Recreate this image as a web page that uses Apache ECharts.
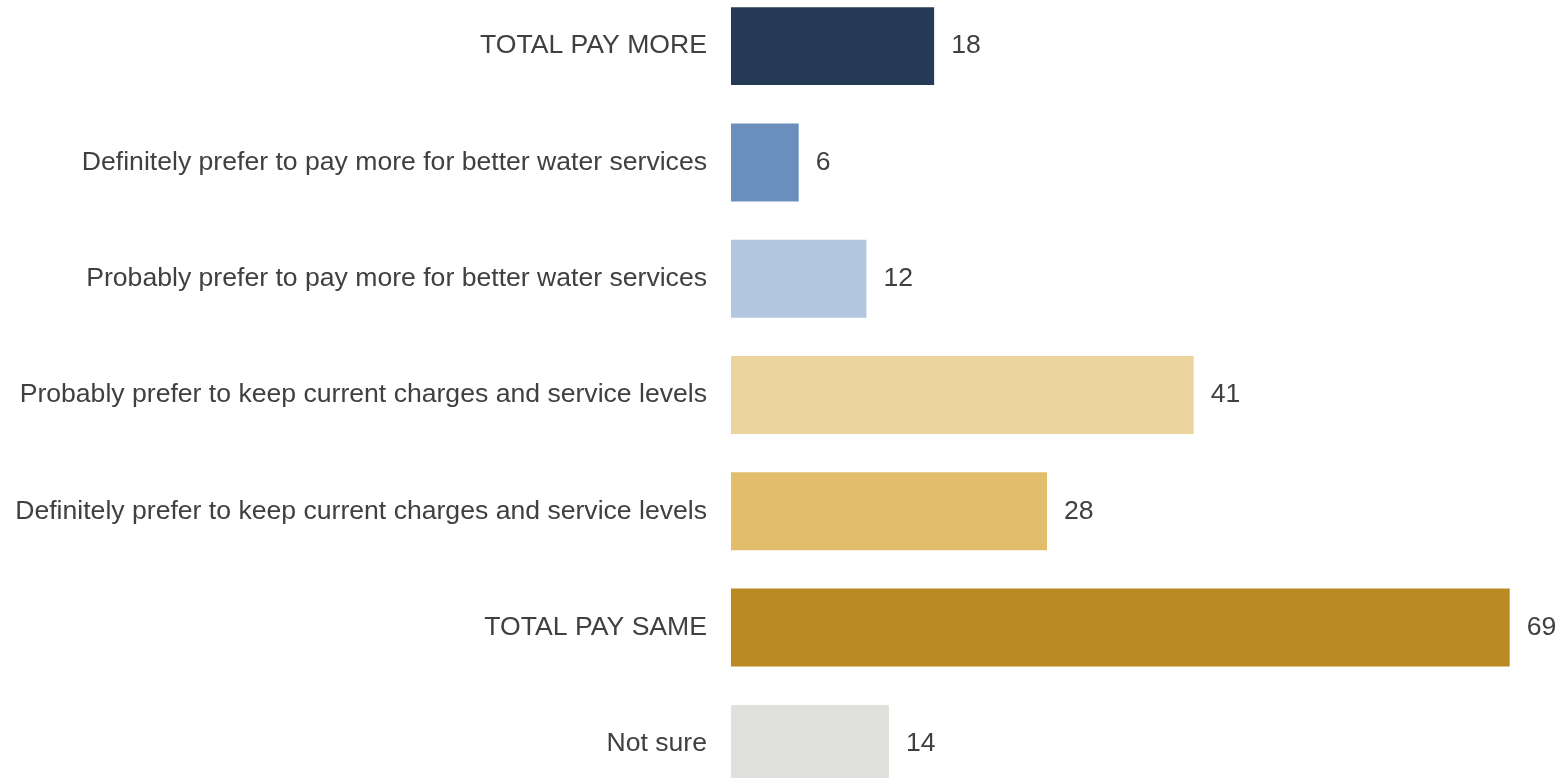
<!DOCTYPE html>
<html><head><meta charset="utf-8">
<script src="https://cdn.jsdelivr.net/npm/echarts@6/dist/echarts.min.js"></script>
<style>html,body{margin:0;padding:0;background:#fff}#c{width:1560px;height:778px}</style>
</head><body><div id="c"></div>
<script>
const categories = [
  "TOTAL PAY MORE",
  "Definitely prefer to pay more for better water services",
  "Probably prefer to pay more for better water services",
  "Probably prefer to keep current charges and service levels",
  "Definitely prefer to keep current charges and service levels",
  "TOTAL PAY SAME",
  "Not sure"
];
const values = [18, 6, 12, 41, 28, 69, 14];
const colors = ["#243a56", "#6a8fbc", "#b3c6df", "#ecd49e", "#e2be6c", "#b98b22", "#e0e0dc"];

const chart = echarts.init(document.getElementById('c'));
chart.setOption({
  animation: false,
  grid: { left: 731, right: 39, top: -12, height: 814, containLabel: false, outerBoundsMode: 'none' },
  xAxis: { type: 'value', min: 0, max: 70, show: false },
  yAxis: {
    type: 'category', data: categories, inverse: true,
    axisLine: { show: false }, axisTick: { show: false },
    axisLabel: { color: '#404040', fontSize: 26.6, fontFamily: 'Liberation Sans, Arial, sans-serif', margin: 24, padding: [4, 0, 0, 0] }
  },
  series: [{
    type: 'bar', barCategoryGap: '33%',
    data: values.map((v, i) => ({ value: v, itemStyle: { color: colors[i] } })),
    label: { show: true, position: 'right', distance: 17, color: '#404040', fontSize: 26.6, fontFamily: 'Liberation Sans, Arial, sans-serif', padding: [4, 0, 0, 0] }
  }]
});
</script></body></html>
